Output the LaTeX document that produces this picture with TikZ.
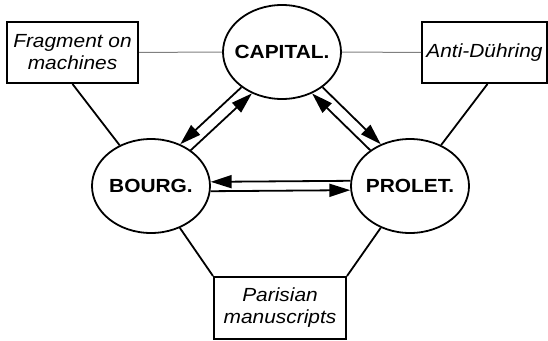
\documentclass[tikz,border=0pt]{standalone}
\usepackage{fontspec}
\setmainfont{Liberation Sans}[FakeStretch=1.1]
\usetikzlibrary{shapes.geometric,arrows.meta}
\begin{document}
\begin{tikzpicture}[x=1pt,y=-1pt,
  ell/.style={draw, ellipse, line width=1.8pt, minimum width=118pt, minimum height=94pt, inner sep=0pt},
  lab/.style={font=\fontsize{19}{22}\selectfont\bfseries, inner sep=0pt},
  box/.style={draw, line width=2pt, minimum height=61pt, inner sep=0pt, align=center, font=\fontsize{19}{22}\selectfont\itshape},
  thinln/.style={draw=gray, line width=1pt},
  link/.style={line width=1.8pt},
  arr/.style={line width=1.8pt, -{Triangle[length=21pt,width=13pt]}}]
\useasboundingbox (0,0) rectangle (548,340);

\node[ell, label={[lab]center:CAPITAL.}] (cap) at (282,52) {};
\node[ell, label={[lab]center:BOURG.}] (bourg) at (151,186) {};
\node[ell, label={[lab]center:PROLET.}] (prolet) at (410,186) {};

\node[box, minimum width=131pt] (frag) at (72.5,52.5) {Fragment on\\machines};
\node[box, minimum width=125pt] (anti) at (484.5,52.5) {Anti-Dühring};
\node[box, minimum width=132pt, minimum height=62pt] (paris) at (280,308) {Parisian\\manuscripts};

\draw[thinln] (frag) -- (cap);
\draw[thinln] (cap) -- (anti);
\draw[link] (frag.south) -- (bourg);
\draw[link] ([xshift=3pt]anti.south) -- (prolet);
\draw[link] (paris.north west) -- (bourg);
\draw[link] (paris.north east) -- (prolet);

\draw[arr] (cap.221) -- (bourg.55);
\draw[arr] (bourg.42) -- (cap.234);
\draw[arr] (cap.319) -- (prolet.125);
\draw[arr] (prolet.138) -- (cap.306);
\draw[arr] (prolet.175.5) -- (bourg.4.5);
\draw[arr] (bourg.355.5) -- (prolet.184.5);
\end{tikzpicture}
\end{document}
